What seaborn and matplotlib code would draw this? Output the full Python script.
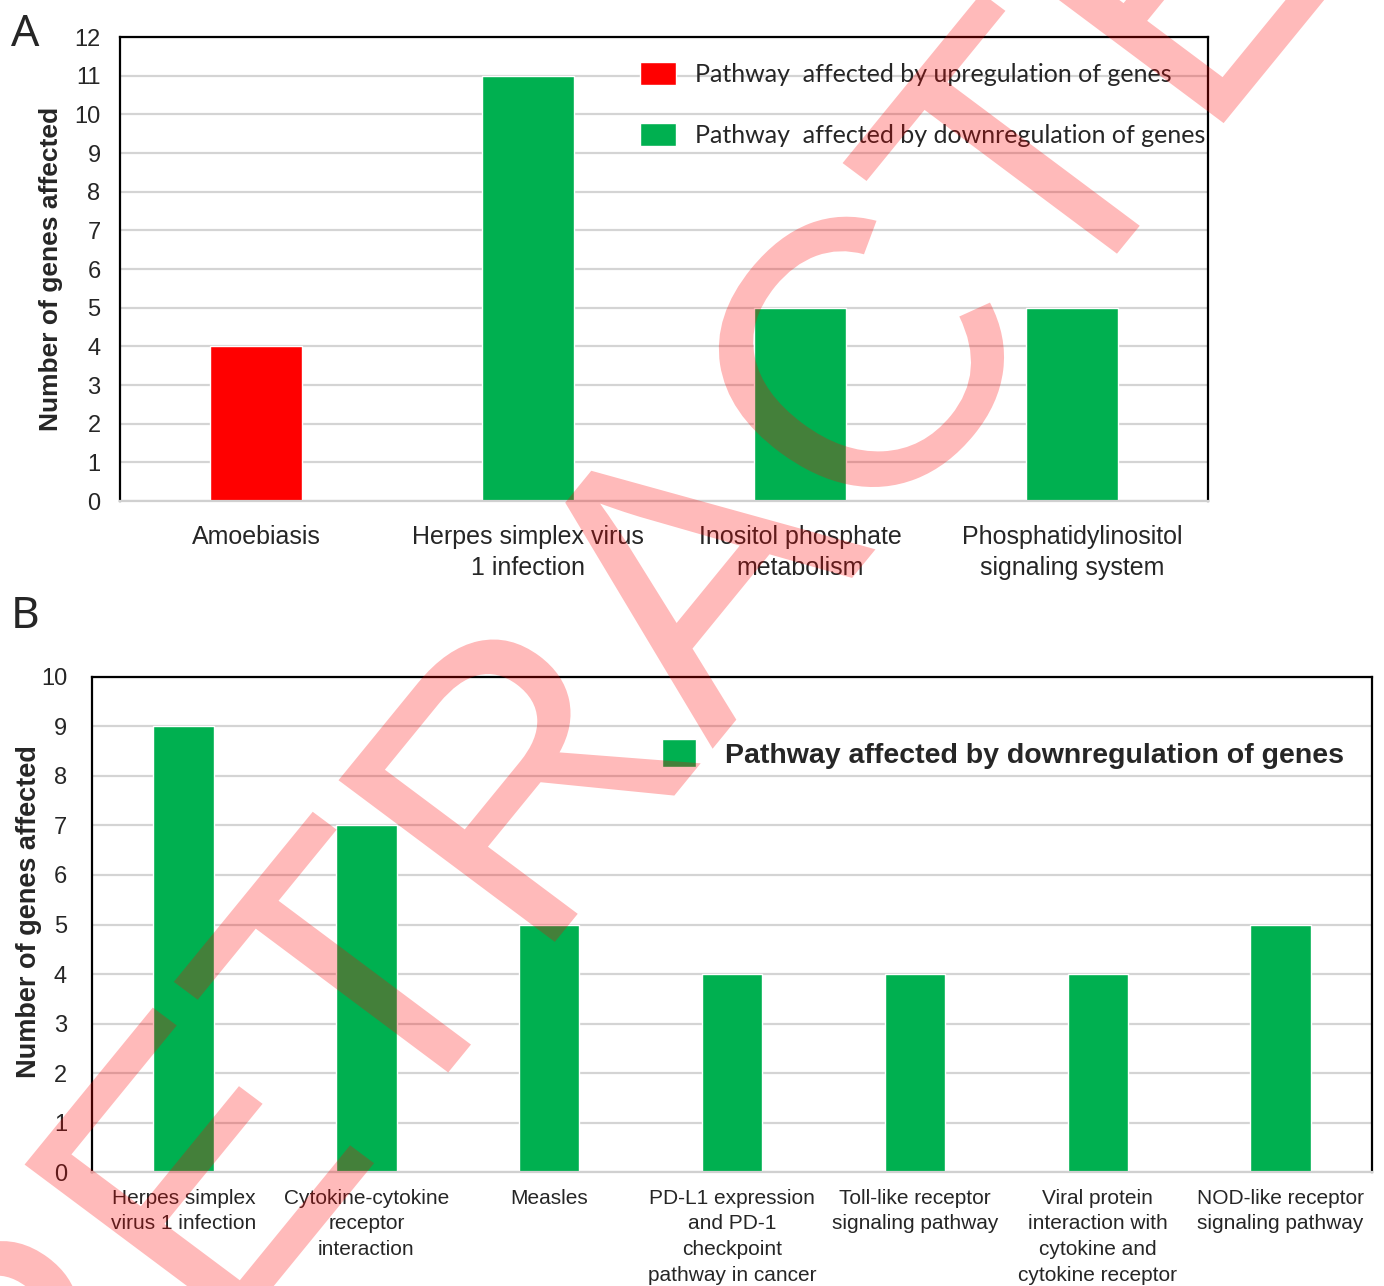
import pandas as pd
import matplotlib
matplotlib.use("Agg")
import matplotlib.pyplot as plt
import seaborn as sns
from matplotlib.textpath import TextPath
from matplotlib.patches import PathPatch
from matplotlib.font_manager import FontProperties
from matplotlib.transforms import Affine2D

# panel A data
pathways_a = ["Amoebiasis", "Herpes simplex virus\n1 infection",
              "Inositol phosphate\nmetabolism", "Phosphatidylinositol\nsignaling system"]
genes_a = [4, 11, 5, 5]
up_label = "Pathway  affected by upregulation of genes"
down_label_a = "Pathway  affected by downregulation of genes"
regulation_a = [up_label, down_label_a, down_label_a, down_label_a]

# panel B data
pathways_b = ["Herpes simplex\nvirus 1 infection", "Cytokine-cytokine\nreceptor\ninteraction",
              "Measles", "PD-L1 expression\nand PD-1\ncheckpoint\npathway in cancer",
              "Toll-like receptor\nsignaling pathway",
              "Viral protein\ninteraction with\ncytokine and\ncytokine receptor",
              "NOD-like receptor\nsignaling pathway"]
genes_b = [9, 7, 5, 4, 4, 4, 5]
down_label_b = "Pathway affected by downregulation of genes"

red = "#FF0000"
green = "#00B050"

sns.set_style("white")
plt.rcParams["font.family"] = ["Liberation Sans", "DejaVu Sans"]

fig = plt.figure(figsize=(13.84, 12.86), dpi=100)
ax_a = fig.add_axes([0.0867, 0.6104, 0.7861, 0.3608])
ax_b = fig.add_axes([0.0665, 0.0886, 0.9249, 0.3850])

df_a = pd.DataFrame({"pathway": pathways_a, "genes": genes_a, "regulation": regulation_a})
df_b = pd.DataFrame({"pathway": pathways_b, "genes": genes_b,
                     "regulation": [down_label_b] * len(pathways_b)})

sns.barplot(data=df_a, x="pathway", y="genes", hue="regulation",
            hue_order=[up_label, down_label_a],
            palette={up_label: red, down_label_a: green},
            dodge=False, width=0.34, saturation=1, ax=ax_a, zorder=2)
sns.barplot(data=df_b, x="pathway", y="genes", hue="regulation",
            palette={down_label_b: green},
            dodge=False, width=0.33, saturation=1, ax=ax_b, zorder=2)


def style(ax, ymax, pad_y, label_size):
    ax.set_ylim(0, ymax)
    ax.set_yticks(range(0, ymax + 1))
    ax.grid(axis="y", color="#d4d4d4", lw=1.6, zorder=0)
    ax.set_axisbelow(True)
    ax.set_xlabel("")
    for s in ["left", "top", "right"]:
        ax.spines[s].set_color("black")
        ax.spines[s].set_linewidth(1.6)
    ax.spines["bottom"].set_color("#d0d0d0")
    ax.spines["bottom"].set_linewidth(1.6)
    ax.tick_params(axis="both", length=0)
    ax.tick_params(axis="y", labelsize=17, pad=pad_y)
    ax.set_ylabel("Number of genes affected", fontsize=label_size, fontweight="bold")


style(ax_a, 12, 14, 19)
style(ax_b, 10, 18, 19.5)

ax_a.tick_params(axis="x", labelsize=18, pad=17)
for lab in ax_a.get_xticklabels():
    lab.set_linespacing(1.4)
ax_b.tick_params(axis="x", labelsize=15, pad=12)
for lab in ax_b.get_xticklabels():
    lab.set_linespacing(1.45)

ax_a.yaxis.set_label_coords(-0.052, 0.5)
ax_b.yaxis.set_label_coords(-0.039, 0.527)

ax_a.legend(loc="upper left", bbox_to_anchor=(0.478, 0.947), frameon=False,
            prop={"family": "Lato", "size": 18}, handlelength=1.45,
            handleheight=1.05, handletextpad=0.75, labelspacing=1.5,
            borderpad=0, borderaxespad=0)
ax_b.legend(loc="center left", bbox_to_anchor=(0.445, 0.844), frameon=False,
            prop={"size": 20.5, "weight": "bold"}, handlelength=1.22,
            handleheight=1.12, handletextpad=1.02, borderpad=0, borderaxespad=0)

fig.text(0.008, 0.99, "A", fontsize=32, family="Noto Sans", va="top")
fig.text(0.008, 0.537, "B", fontsize=32, family="Noto Sans", va="top")

# retraction watermark, stretched as in the source image
wm = TextPath((0, 0), "RETRACTED", size=347, prop=FontProperties(family="Liberation Sans"))
bb = wm.get_extents()
wm_tr = (Affine2D().translate(-(bb.x0 + bb.x1) / 2, -(bb.y0 + bb.y1) / 2)
         .rotate_deg(52).scale(1.15, 1.1).translate(690, 1286 - 563))
fig.add_artist(PathPatch(wm, transform=wm_tr, facecolor=red, edgecolor="none",
                         alpha=0.27, zorder=10))

fig.savefig("out.png", dpi=100)
